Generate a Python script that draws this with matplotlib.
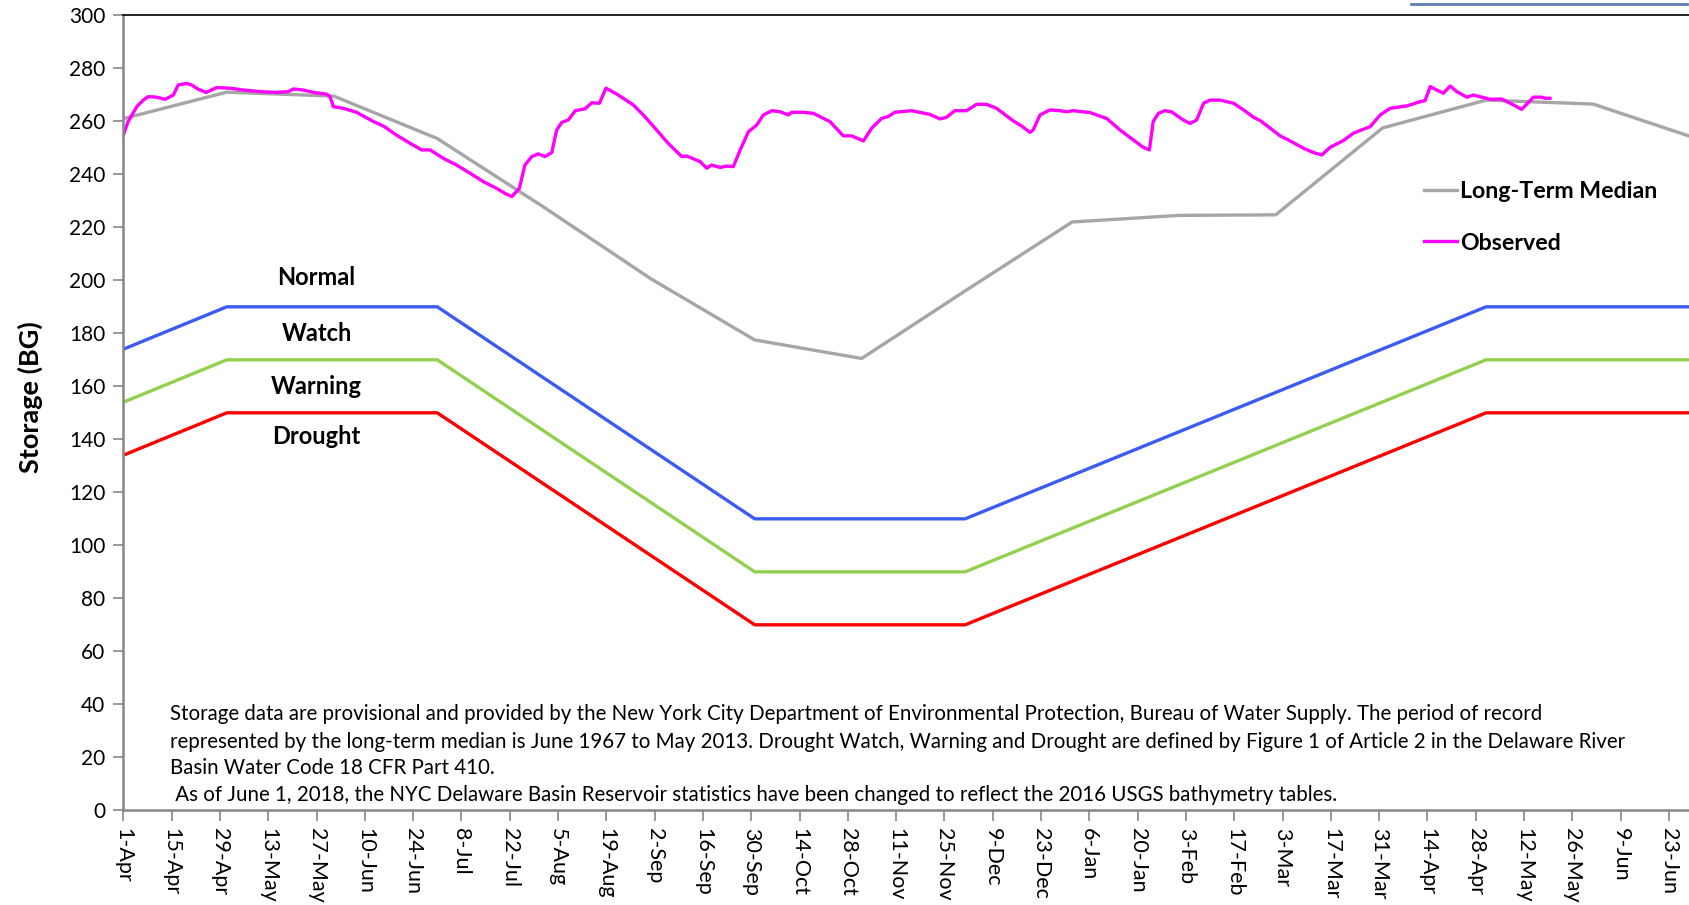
import matplotlib
matplotlib.use('Agg')
import matplotlib.pyplot as plt
import pandas as pd
from matplotlib.lines import Line2D

plt.rcParams['font.family'] = ['Lato', 'DejaVu Sans']

start = pd.Timestamp('2018-04-01')

# drought rule curves (BG)
rule_dates = ['2018-04-01', '2018-05-01', '2018-07-01', '2018-10-01',
              '2018-12-01', '2019-05-01', '2019-07-01']
watch = [174, 190, 190, 110, 110, 190, 190]
warning = [154, 170, 170, 90, 90, 170, 170]
drought = [134, 150, 150, 70, 70, 150, 150]

# long-term median storage (BG), first of month
median_dates = ['2018-04-01', '2018-05-01', '2018-06-01', '2018-07-01',
                '2018-08-01', '2018-09-01', '2018-10-01', '2018-11-01',
                '2018-12-01', '2019-01-01', '2019-02-01', '2019-03-01',
                '2019-04-01', '2019-05-01', '2019-06-01', '2019-07-01']
median_vals = [261, 271, 269.5, 253.5, 227.5, 200.5, 177.5, 170.5,
               196, 222, 224.5, 224.7, 257.5, 268, 266.5, 253.5]

# observed storage, days after 1 Apr 2018
obs_days = [0, 1.4, 3.9, 5.8, 7.2, 9.7, 12.1, 14.5, 15.9, 18.4, 19.8, 21.7,
            24.0, 27.0, 30.9, 34.8, 39.6, 44.4, 47.8, 49.3, 52.2, 55.1, 59.0,
            59.9, 60.9, 63.8, 67.6, 72.5, 75.4, 79.2, 83.1, 86.5, 88.9, 92.8,
            96.6, 100.5, 104.4, 108.2, 110.6, 112.6, 114.8, 116.4, 118.4,
            120.3, 122.2, 124.2, 125.6, 127.1, 129.0, 131.0, 133.8, 135.8,
            138.0, 139.9, 143.0, 147.8, 150.7, 154.6, 157.5, 159.4, 161.9,
            163.3, 167.2, 169.1, 170.5, 173.0, 174.9, 176.8, 178.8, 181.2,
            183.6, 185.5, 188.0, 190.4, 192.8, 193.7, 197.1, 200.0, 204.8,
            208.7, 211.1, 214.5, 216.9, 219.8, 221.7, 223.6, 228.5, 233.8,
            236.7, 238.6, 241.0, 244.4, 247.3, 250.2, 253.1, 258.0, 260.4,
            262.8, 263.7, 265.7, 268.6, 271.5, 273.4, 275.3, 280.2, 282.1,
            285.0, 288.9, 292.7, 295.6, 297.4, 298.5, 300.0, 301.9, 303.8,
            307.2, 309.2, 311.1, 313.1, 315.0, 317.9, 321.8, 324.7, 327.6,
            329.5, 332.4, 335.3, 338.2, 342.1, 345.0, 347.4, 349.8, 353.6,
            356.5, 361.4, 364.3, 367.2, 372.0, 375.9, 377.3, 378.8, 380.7,
            382.6, 384.6, 386.5, 389.4, 391.3, 396.2, 399.5, 402.9, 405.3,
            406.8, 408.7, 411.1, 412.1, 413.5]
obs_vals = [254.8, 259.9, 265.5, 268.0, 269.3, 269.1, 268.3, 269.9, 273.7,
            274.3, 273.7, 272.1, 270.9, 272.7, 272.5, 271.8, 271.2, 270.9,
            271.2, 272.2, 271.8, 270.9, 270.2, 269.3, 265.5, 264.9, 263.4,
            259.9, 258.2, 254.8, 251.7, 249.2, 249.2, 246.0, 243.5, 240.4,
            237.2, 234.7, 232.8, 231.6, 234.7, 243.5, 246.7, 247.7, 246.7,
            248.2, 256.7, 259.6, 260.5, 264.0, 264.7, 267.0, 266.8, 272.5,
            270.3, 266.2, 262.4, 256.7, 252.3, 249.8, 246.7, 246.9, 244.8,
            242.3, 243.5, 242.6, 243.1, 242.9, 249.2, 256.1, 258.6, 262.4,
            264.0, 263.6, 262.4, 263.4, 263.4, 263.0, 259.9, 254.5, 254.5,
            252.6, 257.4, 261.1, 261.8, 263.4, 264.0, 262.6, 260.9, 261.5,
            264.0, 264.0, 266.4, 266.4, 264.9, 260.1, 258.2, 255.8, 256.7,
            262.4, 264.3, 264.0, 263.6, 264.0, 263.3, 262.4, 261.1, 256.7,
            253.0, 250.2, 249.2, 259.9, 263.0, 264.0, 263.6, 260.5, 259.2,
            260.5, 266.8, 268.0, 268.0, 266.8, 264.3, 261.5, 260.3, 257.4,
            254.5, 252.6, 249.8, 248.2, 247.3, 250.2, 252.7, 255.5, 258.0,
            262.4, 264.9, 265.8, 267.4, 267.8, 273.1, 271.8, 270.6, 273.3,
            271.2, 269.1, 269.9, 268.3, 268.4, 266.2, 264.5, 266.5, 269.1,
            269.1, 268.7, 268.7]

footnote = [
    "Storage data are provisional and provided by the New York City Department of Environmental Protection, Bureau of Water Supply. The period of record",
    "represented by the long-term median is June 1967 to May 2013. Drought Watch, Warning and Drought are defined by Figure 1 of Article 2 in the Delaware River",
    "Basin Water Code 18 CFR Part 410.",
    " As of June 1, 2018, the NYC Delaware Basin Reservoir statistics have been changed to reflect the 2016 USGS bathymetry tables.",
]

rule_x = pd.to_datetime(rule_dates)
median_x = pd.to_datetime(median_dates)
obs_x = start + pd.to_timedelta(obs_days, unit='D')

fig = plt.figure(figsize=(16.89, 9.05), dpi=100)
ax = fig.add_axes([0.073, 0.1046, 0.927, 0.8785])

ax.plot(rule_x, watch, color='#3A5CF5', lw=2.4)
ax.plot(rule_x, warning, color='#92D050', lw=2.4)
ax.plot(rule_x, drought, color='#FF0000', lw=2.4)
med_line, = ax.plot(median_x, median_vals, color='#A6A6A6', lw=2.4,
                    label='Long-Term Median')
obs_line, = ax.plot(obs_x, obs_vals, color='#FF00FF', lw=2.4,
                    label='Observed')

ax.set_xlim(start, start + pd.Timedelta(days=453.8))
ax.set_ylim(0, 300)
ax.set_yticks(range(0, 301, 20))

ticks = pd.date_range(start, periods=33, freq='14D')
ax.set_xticks(ticks)
ax.set_xticklabels([f"{d.day}-{d.strftime('%b')}" for d in ticks],
                   rotation=-90, fontsize=15.5)
ax.tick_params(axis='y', labelsize=15, length=7, width=1.2, color='#868686', pad=6)
ax.tick_params(axis='x', length=8, width=1.2, color='#868686', pad=5)

ax.spines['right'].set_visible(False)
ax.spines['top'].set_color('black')
ax.spines['top'].set_linewidth(1.2)
for s in ['left', 'bottom']:
    ax.spines[s].set_color('#868686')
    ax.spines[s].set_linewidth(1.8)

ax.set_ylabel('Storage (BG)', fontsize=19.5, fontweight='bold')
ax.yaxis.set_label_coords(-0.051, 0.52)

# zone labels
zone_labels = ['Normal', 'Watch', 'Warning', 'Drought']
zone_y = [201, 180, 160, 141]
for lab, yv in zip(zone_labels, zone_y):
    ax.text(pd.Timestamp('2018-05-27'), yv, lab, ha='center', va='center',
            fontsize=17, fontweight='bold')

for i, line in enumerate(footnote):
    ax.text(0.0298, [0.121, 0.086, 0.053, 0.019][i], line, transform=ax.transAxes,
            ha='left', va='center', fontsize=14.8)

ax.legend(handles=[med_line, obs_line], loc='upper left',
          bbox_to_anchor=(0.831, 0.791), frameon=False, handlelength=1.4,
          handletextpad=0.15, borderpad=0, borderaxespad=0, labelspacing=1.3,
          prop={'family': 'Lato', 'weight': 'bold', 'size': 16.7})

fig.add_artist(Line2D([1411 / 1689, 1687 / 1689], [1 - 4 / 905, 1 - 4 / 905],
                      color='#5B7DB1', lw=2))

fig.savefig('out.png', dpi=100)
